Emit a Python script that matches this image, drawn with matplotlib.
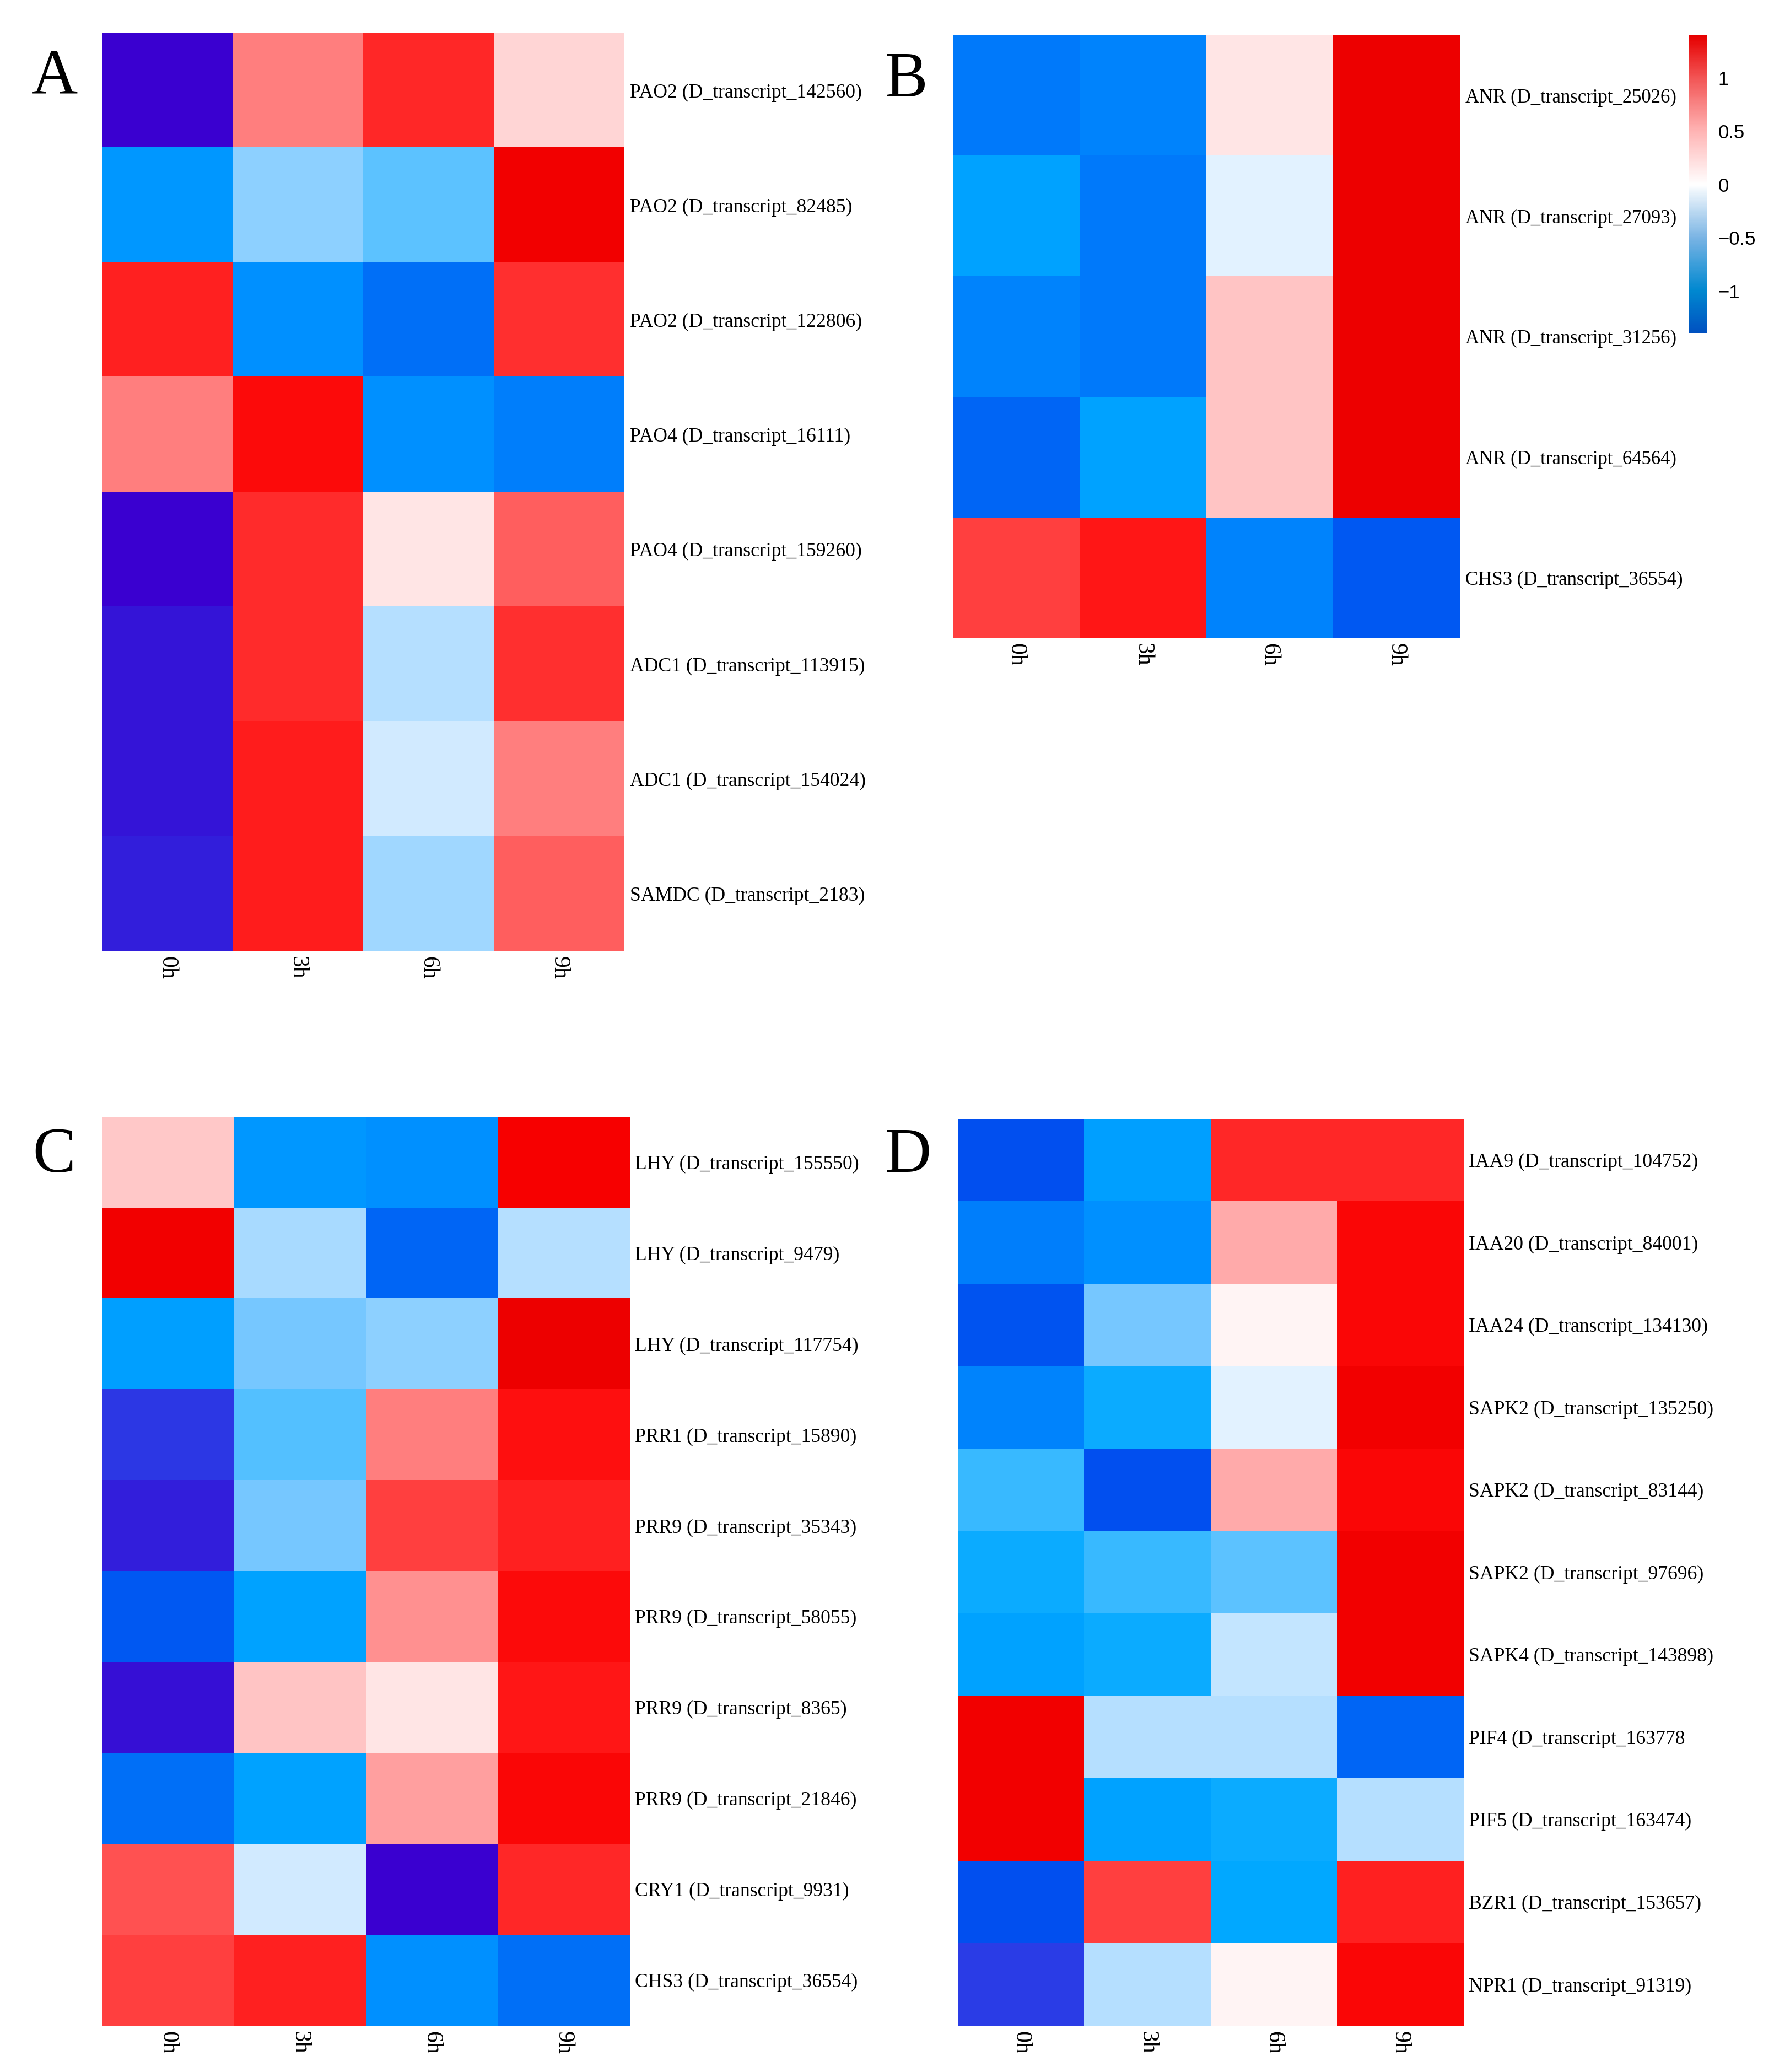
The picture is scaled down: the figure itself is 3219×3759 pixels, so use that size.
import numpy as np
import matplotlib
matplotlib.use("Agg")
import matplotlib.pyplot as plt
from matplotlib.colors import LinearSegmentedColormap, Normalize
from matplotlib.cm import ScalarMappable

# ---------------- data ----------------
timepoints = ["0h", "3h", "6h", "9h"]

genes_A = ["PAO2 (D_transcript_142560)", "PAO2 (D_transcript_82485)",
           "PAO2 (D_transcript_122806)", "PAO4 (D_transcript_16111)",
           "PAO4 (D_transcript_159260)", "ADC1 (D_transcript_113915)",
           "ADC1 (D_transcript_154024)", "SAMDC (D_transcript_2183)"]
values_A = [[-1.50, 0.60, 1.05, 0.20],
            [-0.85, -0.38, -0.52, 1.40],
            [1.10, -0.90, -1.05, 1.00],
            [0.60, 1.25, -0.90, -0.98],
            [-1.50, 1.02, 0.12, 0.75],
            [-1.45, 1.02, -0.25, 1.00],
            [-1.45, 1.12, -0.16, 0.60],
            [-1.42, 1.12, -0.32, 0.75]]

genes_B = ["ANR (D_transcript_25026)", "ANR (D_transcript_27093)",
           "ANR (D_transcript_31256)", "ANR (D_transcript_64564)",
           "CHS3 (D_transcript_36554)"]
values_B = [[-1.00, -0.95, 0.12, 1.45],
            [-0.78, -1.00, -0.10, 1.45],
            [-0.95, -1.00, 0.30, 1.45],
            [-1.10, -0.78, 0.30, 1.45],
            [0.90, 1.15, -0.95, -1.15]]

genes_C = ["LHY (D_transcript_155550)", "LHY (D_transcript_9479)",
           "LHY (D_transcript_117754)", "PRR1 (D_transcript_15890)",
           "PRR9 (D_transcript_35343)", "PRR9 (D_transcript_58055)",
           "PRR9 (D_transcript_8365)", "PRR9 (D_transcript_21846)",
           "CRY1 (D_transcript_9931)", "CHS3 (D_transcript_36554)"]
values_C = [[0.28, -0.85, -0.90, 1.35],
            [1.40, -0.30, -1.10, -0.25],
            [-0.80, -0.45, -0.38, 1.45],
            [-1.37, -0.55, 0.60, 1.20],
            [-1.42, -0.45, 0.90, 1.10],
            [-1.15, -0.78, 0.52, 1.25],
            [-1.46, 0.30, 0.12, 1.15],
            [-1.05, -0.78, 0.45, 1.28],
            [0.82, -0.16, -1.50, 1.05],
            [0.90, 1.10, -0.90, -1.05]]

genes_D = ["IAA9 (D_transcript_104752)", "IAA20 (D_transcript_84001)",
           "IAA24 (D_transcript_134130)", "SAPK2 (D_transcript_135250)",
           "SAPK2 (D_transcript_83144)", "SAPK2 (D_transcript_97696)",
           "SAPK4 (D_transcript_143898)", "PIF4 (D_transcript_163778",
           "PIF5 (D_transcript_163474)", "BZR1 (D_transcript_153657)",
           "NPR1 (D_transcript_91319)"]
values_D = [[-1.20, -0.80, 1.05, 1.05],
            [-0.98, -0.90, 0.40, 1.28],
            [-1.18, -0.45, 0.05, 1.28],
            [-0.95, -0.72, -0.10, 1.40],
            [-0.62, -1.20, 0.40, 1.28],
            [-0.72, -0.62, -0.52, 1.40],
            [-0.78, -0.72, -0.20, 1.40],
            [1.40, -0.25, -0.25, -1.10],
            [1.40, -0.78, -0.72, -0.25],
            [-1.20, 0.90, -0.75, 1.10],
            [-1.35, -0.25, 0.05, 1.28]]

cbar_ticks = [-1, -0.5, 0, 0.5, 1]

# ---------------- colours ----------------
anchor_vals = [-1.5, -1.35, -1.2, -1.05, -0.9, -0.75, -0.6, -0.45, -0.3, -0.15, 0.0,
               0.15, 0.3, 0.45, 0.6, 0.75, 0.9, 1.05, 1.2, 1.35, 1.5]
anchor_cols = ["#3A00D0", "#2A40E8", "#0050F0", "#0070F8", "#0090FF", "#00A8FF",
               "#40BCFF", "#78C8FF", "#A8DAFF", "#D4ECFF", "#FFFFFF",
               "#FFE0E0", "#FFC4C4", "#FFA0A0", "#FF8080", "#FF6060", "#FF4040",
               "#FF2828", "#FF1010", "#F80000", "#E80000"]
vmin, vmax = -1.5, 1.5
cmap = LinearSegmentedColormap.from_list(
    "heat", [((v - vmin) / (vmax - vmin), c) for v, c in zip(anchor_vals, anchor_cols)])

cb_anchor_vals = [-1.4, -1.0, -0.5, 0.0, 0.5, 1.0, 1.4]
cb_anchor_cols = ["#0050C0", "#0088D0", "#7AB4E4", "#FFFFFF", "#FFB4B4", "#F25555", "#E60000"]
cb_min, cb_max = -1.4, 1.4
cb_cmap = LinearSegmentedColormap.from_list(
    "cb", [((v - cb_min) / (cb_max - cb_min), c) for v, c in zip(cb_anchor_vals, cb_anchor_cols)])

# ---------------- figure ----------------
W, H = 3219, 3759
fig = plt.figure(figsize=(W / 100, H / 100), dpi=100)
fig.patch.set_facecolor("white")

serif = ["Liberation Serif", "DejaVu Serif"]
col_fs = 30


def draw_panel(rect, data, genes, letter, letter_xy, label_fs):
    ax = fig.add_axes(rect)
    arr = np.array(data)
    ax.imshow(arr, cmap=cmap, vmin=vmin, vmax=vmax, aspect="auto",
              interpolation="nearest")
    ax.set_xticks(range(len(timepoints)))
    ax.set_xticklabels(timepoints, rotation=270, fontsize=col_fs,
                       family=serif, va="top", ha="center")
    ax.set_yticks(range(len(genes)))
    ax.set_yticklabels(genes, fontsize=label_fs, family=serif)
    ax.yaxis.tick_right()
    ax.tick_params(axis="both", length=0)
    ax.tick_params(axis="y", pad=7)
    ax.tick_params(axis="x", pad=7)
    for s in ax.spines.values():
        s.set_visible(False)
    fig.text(letter_xy[0], letter_xy[1], letter, fontsize=84, family=serif,
             ha="center", va="center")
    return ax


draw_panel([0.0575, 0.541, 0.2945, 0.443], values_A, genes_A, "A", (0.0306, 0.962), 25.7)
draw_panel([0.537, 0.692, 0.286, 0.291], values_B, genes_B, "B", (0.511, 0.961), 25)
draw_panel([0.0575, 0.0224, 0.2975, 0.4386], values_C, genes_C, "C", (0.0306, 0.442), 25.7)
draw_panel([0.540, 0.0224, 0.285, 0.4376], values_D, genes_D, "D", (0.512, 0.442), 25.7)

# colour bar (panel B)
cax = fig.add_axes([0.952, 0.839, 0.0105, 0.144])
sm = ScalarMappable(norm=Normalize(cb_min, cb_max), cmap=cb_cmap)
cb = fig.colorbar(sm, cax=cax, ticks=cbar_ticks)
cb.outline.set_visible(False)
cb.ax.tick_params(length=0, pad=14, labelsize=25)
cb.ax.set_yticklabels(["\u22121", "\u22120.5", "0", "0.5", "1"],
                      family=["Liberation Sans", "DejaVu Sans"])

fig.savefig("out.png", dpi=100, facecolor="white")
